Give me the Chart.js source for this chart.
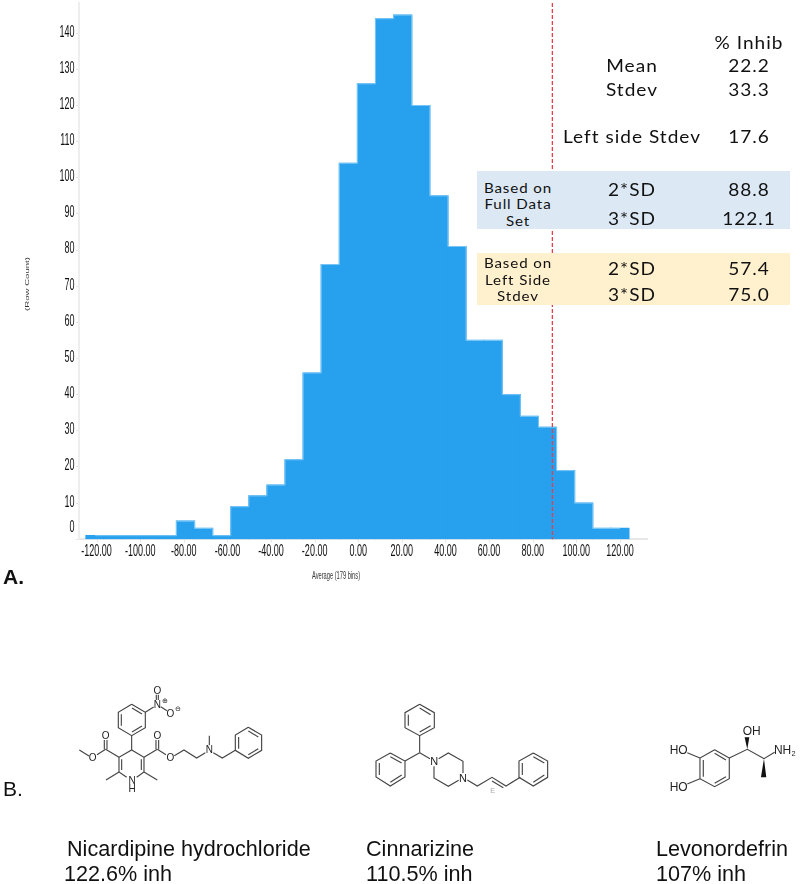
<!DOCTYPE html>
<html>
<head>
<meta charset="utf-8">
<title>Histogram of % inhibition</title>
<script src="https://cdn.jsdelivr.net/npm/chart.js@4"></script>
<style>
html, body { margin: 0; padding: 0; background: #fff; }
#page { position: relative; width: 800px; height: 884px; overflow: hidden; }
#histCanvas { position: absolute; left: 0; top: 0; }
.panel { position: absolute; left: 477px; width: 313px; }
.stat { position: absolute; transform: translate(-50%, -50%) scaleX(1.12); font-family: Lato, sans-serif; font-size: 17px;
        color: #111; white-space: nowrap; letter-spacing: 0.9px; }
.small { font-size: 13.5px; letter-spacing: 0.8px; }
.caption { position: absolute; font-family: "Liberation Sans", Arial, sans-serif; font-size: 21.6px; color: #111;
           white-space: nowrap; line-height: 25px; }
#molecules { position: absolute; left: 0; top: 0; }
#molecules line, #molecules polyline { stroke: #444; stroke-width: 3.4; fill: none; }
#molecules text { font-family: "Liberation Sans", Arial, sans-serif; fill: #222; text-anchor: middle; dominant-baseline: central; }
</style>
</head>
<body>
<div id="page">
  <canvas id="histCanvas" width="800" height="884"></canvas>

  <div class="panel" style="top:171px;height:58px;background:#dce9f5"></div>
  <div class="panel" style="top:253px;height:52px;background:#fff0ce"></div>

  <div class="stat" style="left:749px;top:42px">% Inhib</div>
  <div class="stat" style="left:632px;top:65px">Mean</div>
  <div class="stat" style="left:749px;top:65px">22.2</div>
  <div class="stat" style="left:632px;top:89px">Stdev</div>
  <div class="stat" style="left:749px;top:89px">33.3</div>
  <div class="stat" style="left:632px;top:136px">Left side Stdev</div>
  <div class="stat" style="left:749px;top:136px">17.6</div>

  <div class="stat small" style="left:518px;top:188px">Based on</div>
  <div class="stat small" style="left:518px;top:204px">Full Data</div>
  <div class="stat small" style="left:518px;top:221px">Set</div>
  <div class="stat" style="left:632px;top:189px">2*SD</div>
  <div class="stat" style="left:749px;top:189px">88.8</div>
  <div class="stat" style="left:632px;top:218px">3*SD</div>
  <div class="stat" style="left:749px;top:218px">122.1</div>

  <div class="stat small" style="left:518px;top:263px">Based on</div>
  <div class="stat small" style="left:518px;top:280px">Left Side</div>
  <div class="stat small" style="left:518px;top:296px">Stdev</div>
  <div class="stat" style="left:632px;top:268px">2*SD</div>
  <div class="stat" style="left:749px;top:268px">57.4</div>
  <div class="stat" style="left:632px;top:294px">3*SD</div>
  <div class="stat" style="left:749px;top:294px">75.0</div>

  <div class="caption" style="left:3px;top:564px;font-size:21px;font-weight:bold">A.</div>
  <div class="caption" style="left:3px;top:776px;font-size:21px">B.</div>
  <div class="caption" style="left:67px;top:836px">Nicardipine hydrochloride</div>
  <div class="caption" style="left:64px;top:861px">122.6% inh</div>
  <div class="caption" style="left:366px;top:836px">Cinnarizine</div>
  <div class="caption" style="left:366px;top:861px">110.5% inh</div>
  <div class="caption" style="left:656px;top:836px">Levonordefrin</div>
  <div class="caption" style="left:656px;top:861px">107% inh</div>

  <svg id="molecules" width="800" height="884">
    <!-- coordinates are in 3x crop pixels, hence the scale -->
    <g transform="translate(0,670) scale(0.3333)">
      <polyline points="395,103 436,127 436,173 395,197 355,173 355,127 395,103"/>
      <line x1="364" y1="133" x2="364" y2="167"/><line x1="396" y1="114" x2="426" y2="132"/><line x1="426" y1="168" x2="396" y2="186"/>
      <line x1="436" y1="127" x2="461" y2="111"/>
      <line x1="469" y1="90" x2="469" y2="74"/><line x1="475" y1="90" x2="475" y2="74"/>
      <line x1="482" y1="110" x2="501" y2="122"/>
      <text x="472" y="62" font-size="30">O</text><text x="472" y="103" font-size="30">N</text>
      <text x="511" y="130" font-size="30">O</text>
      <text x="494" y="93" font-size="22">⊕</text><text x="534" y="116" font-size="22">⊖</text>
      <line x1="395" y1="197" x2="395" y2="240"/>
      <polyline points="410,322 432,306 432,262 395,240 357,262 357,306 380,322"/>
      <line x1="424" y1="268" x2="424" y2="300"/><line x1="365" y1="268" x2="365" y2="300"/>
      <text x="396" y="333" font-size="30">N</text><text x="396" y="357" font-size="30">H</text>
      <line x1="357" y1="306" x2="318" y2="330"/><line x1="432" y1="306" x2="472" y2="330"/>
      <line x1="357" y1="262" x2="317" y2="238"/>
      <line x1="313" y1="238" x2="313" y2="210"/><line x1="321" y1="238" x2="321" y2="210"/>
      <text x="317" y="196" font-size="30">O</text>
      <line x1="317" y1="238" x2="291" y2="254"/><text x="278" y="263" font-size="30">O</text>
      <line x1="267" y1="258" x2="238" y2="240"/>
      <line x1="432" y1="262" x2="472" y2="238"/>
      <line x1="468" y1="238" x2="468" y2="210"/><line x1="476" y1="238" x2="476" y2="210"/>
      <text x="472" y="196" font-size="30">O</text>
      <line x1="472" y1="238" x2="498" y2="254"/><text x="511" y="263" font-size="30">O</text>
      <polyline points="523,257 552,240 590,264 616,248"/>
      <text x="628" y="240" font-size="30">N</text>
      <line x1="628" y1="226" x2="628" y2="197"/>
      <polyline points="640,248 667,264 706,241"/>
      <polyline points="745,172 785,195 785,241 745,265 706,241 706,195 745,172"/>
      <line x1="716" y1="201" x2="716" y2="236"/><line x1="745" y1="183" x2="775" y2="201"/><line x1="775" y1="236" x2="745" y2="254"/>
    </g>
    <g transform="translate(340,680) scale(0.3333)">
      <polyline points="239,73 283,98 283,143 239,167 195,143 195,98 239,73"/>
      <line x1="205" y1="104" x2="205" y2="137"/><line x1="239" y1="84" x2="272" y2="104"/><line x1="272" y1="137" x2="239" y2="156"/>
      <line x1="239" y1="167" x2="239" y2="218"/>
      <line x1="239" y1="218" x2="195" y2="243"/>
      <polyline points="151,219 195,243 195,291 151,318 108,291 108,243 151,219"/>
      <line x1="118" y1="249" x2="118" y2="285"/><line x1="151" y1="230" x2="185" y2="249"/><line x1="185" y1="285" x2="151" y2="307"/>
      <line x1="239" y1="218" x2="270" y2="236"/>
      <text x="283" y="244" font-size="33">N</text><text x="369" y="293" font-size="33">N</text>
      <polyline points="296,236 325,219 369,244 369,279"/>
      <polyline points="356,301 325,319 282,294 282,259"/>
      <polyline points="382,300 412,318 456,292 498,318 541,292"/>
      <line x1="456" y1="303" x2="490" y2="323"/>
      <text x="458" y="332" font-size="22" style="fill:#aaa">E</text>
      <polyline points="580,219 623,243 623,292 580,318 537,292 537,243 580,219"/>
      <line x1="547" y1="249" x2="547" y2="285"/><line x1="580" y1="230" x2="613" y2="249"/><line x1="613" y1="285" x2="580" y2="307"/>
    </g>
    <g transform="translate(340,680) scale(0.3333)">
      <polyline points="1124,209 1168,234 1168,296 1124,320 1080,296 1080,234 1124,209"/>
      <line x1="1090" y1="240" x2="1090" y2="290"/><line x1="1124" y1="220" x2="1158" y2="240"/><line x1="1158" y1="290" x2="1124" y2="310"/>
      <line x1="1042" y1="218" x2="1080" y2="234"/><line x1="1042" y1="312" x2="1080" y2="296"/>
      <polyline points="1168,234 1222,208 1272,236 1304,217"/>
      <polygon points="1222,208 1214,172 1228,172" fill="#111"/>
      <polygon points="1272,236 1263,292 1279,292" fill="#111"/>
      <text x="1016" y="210" font-size="36">HO</text><text x="1016" y="322" font-size="36">HO</text>
      <text x="1235" y="152" font-size="36">OH</text>
      <text x="1328" y="210" font-size="36">NH</text><text x="1361" y="220" font-size="22">2</text>
    </g>
  </svg>
</div>

<script>
"use strict";

// bin centres along the Average axis, 8.3 wide
var bin_centers = [-120.95, -112.65, -104.35, -96.05, -87.75, -79.45, -71.15, -62.85, -54.55, -46.25,
                   -37.95, -29.65, -21.35, -13.05, -4.75, 3.55, 11.85, 20.15, 28.45, 36.75,
                   45.05, 53.35, 61.65, 69.95, 78.25, 86.55, 94.85, 103.15, 111.45, 119.75];
var row_counts = [1, 1, 1, 1, 1, 5, 3, 1, 9, 12,
                  15, 22, 46, 76, 104, 126, 144, 145, 120, 95,
                  81, 55, 55, 40, 34, 31, 19, 10, 3, 3];
var x_ticks = [-120, -100, -80, -60, -40, -20, 0, 20, 40, 60, 80, 100, 120];
var y_ticks = [0, 10, 20, 30, 40, 50, 60, 70, 80, 90, 100, 110, 120, 130, 140];
var cutoff_2sd = 88.8;

// the source figure was squeezed sideways, so its axis text is narrow
function narrow_text(ctx, text, x, y, size, align, rotate, color) {
    ctx.save();
    ctx.translate(x, y);
    if (rotate) {
        ctx.rotate(-Math.PI / 2);
        ctx.scale(1, 0.62);
    } else {
        ctx.scale(0.57, 1);
    }
    ctx.font = size + 'px "Liberation Sans"';
    ctx.fillStyle = color;
    ctx.textAlign = align;
    ctx.textBaseline = "middle";
    ctx.fillText(text, 0, 0);
    ctx.restore();
}

var axis_text_plugin = {
    id: "axisText",
    afterDatasetsDraw: function(chart) {
        var ctx = chart.ctx;
        var px = chart.scales.x.getPixelForValue(cutoff_2sd);
        ctx.save();
        ctx.strokeStyle = "#e2404e";
        ctx.lineWidth = 1.3;
        ctx.setLineDash([4, 2]);
        ctx.beginPath();
        ctx.moveTo(px, chart.chartArea.top);
        ctx.lineTo(px, chart.chartArea.bottom);
        ctx.stroke();
        ctx.restore();
    },
    afterDraw: function(chart) {
        var ctx = chart.ctx;
        var x_scale = chart.scales.x;
        var y_scale = chart.scales.y;
        x_ticks.forEach(function(value) {
            narrow_text(ctx, value.toFixed(2), x_scale.getPixelForValue(value) - 0.5, 552, 15.8, "center", false, "#111");
        });
        y_ticks.forEach(function(value) {
            // the 0 label sits well above its tick in the original
            var py = value === 0 ? 528 : y_scale.getPixelForValue(value) - 1;
            narrow_text(ctx, String(value), 74.5, py, 15.8, "right", false, "#111");
        });
        narrow_text(ctx, "(Row Count)", 27, 284, 9.6, "center", true, "#333");
        narrow_text(ctx, "Average (179 bins)", 336, 576, 10, "center", false, "#333");
    }
};

window.addEventListener("load", function() {
    var chart_context = document.getElementById("histCanvas").getContext("2d");
    var points = bin_centers.map(function(center, i) {
        return { x: center, y: row_counts[i] };
    });
    new Chart(chart_context, {
        type: "bar",
        data: {
            datasets: [{
                // pale edge along the staircase
                type: "line",
                label: "Outline",
                data: points,
                stepped: "middle",
                borderColor: "#7cc6f6",
                borderWidth: 1,
                pointRadius: 0,
                order: 0
            }, {
                label: "Row Count",
                data: points,
                backgroundColor: "#27a0ee",
                borderWidth: 0,
                inflateAmount: 0.6,
                barPercentage: 1,
                categoryPercentage: 1,
                order: 1
            }]
        },
        options: {
            responsive: false,
            animation: false,
            layout: { padding: { top: 3, right: 153, left: 0, bottom: 0 } },
            plugins: { legend: { display: false }, tooltip: { enabled: false } },
            scales: {
                x: {
                    type: "linear",
                    offset: false,
                    min: -128.3,
                    max: 132.2,
                    afterBuildTicks: function(scale) {
                        scale.ticks = x_ticks.map(function(v) { return { value: v }; });
                    },
                    afterFit: function(scale) { scale.height = 344.7; },
                    ticks: { display: false },
                    grid: { offset: false, drawOnChartArea: false, tickLength: 3, tickColor: "#e4e4e4" },
                    border: { color: "#e8e8e8", width: 2 }
                },
                y: {
                    min: 0,
                    max: 148.35,
                    afterBuildTicks: function(scale) {
                        scale.ticks = y_ticks.map(function(v) { return { value: v }; });
                    },
                    afterFit: function(scale) { scale.width = 79; },
                    ticks: { display: false },
                    grid: { drawOnChartArea: false, tickLength: 3, tickColor: "#e4e4e4" },
                    border: { color: "#eeeeee", width: 2 }
                }
            }
        },
        plugins: [axis_text_plugin]
    });
});
</script>
</body>
</html>
